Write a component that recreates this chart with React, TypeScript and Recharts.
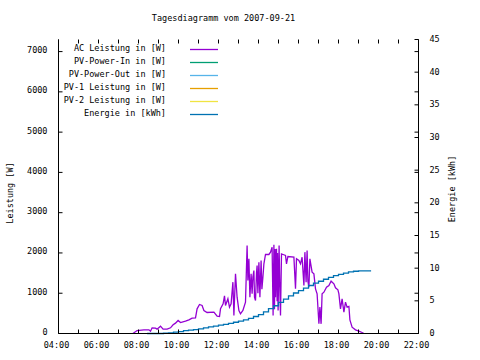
import { LineChart, Line, XAxis, YAxis } from 'recharts';

// time of day in hours, AC power in W
const acTime = [
  7.72, 7.93, 8.27, 8.52, 8.6, 8.68, 8.85, 8.93, 9.1, 9.23, 9.43, 9.6, 9.73, 9.85, 9.98,
  10.1, 10.35, 10.52, 10.68, 10.85, 10.93, 11.05, 11.18, 11.27, 11.43, 11.77, 11.93, 12.05,
  12.1, 12.23, 12.3, 12.35, 12.47, 12.55, 12.63, 12.72, 12.77, 12.85, 12.93, 13.02, 13.1,
  13.22, 13.35, 13.43, 13.47, 13.52, 13.57, 13.63, 13.68, 13.72, 13.77, 13.8, 13.85, 13.9,
  13.93, 13.97, 14.02, 14.07, 14.13, 14.17, 14.22, 14.27, 14.35, 14.52, 14.6, 14.68, 14.73,
  14.77, 14.8, 14.83, 14.85, 14.9, 14.93, 14.95, 14.98, 15.03, 15.07, 15.1, 15.15, 15.23,
  15.35, 15.4, 15.47, 15.77, 15.85, 15.9, 16.02, 16.1, 16.18, 16.27, 16.32, 16.38, 16.43,
  16.47, 16.52, 16.57, 16.68, 16.77, 16.85, 16.93, 17.02, 17.07, 17.13, 17.18, 17.27, 17.4,
  17.52, 17.63, 17.77, 17.85, 17.97, 18.02, 18.1, 18.18, 18.27, 18.35, 18.43, 18.52, 18.57,
  18.68, 18.85, 19.02, 19.18, 19.27,
];
const acWatt = [
  0, 74, 91, 91, 58, 141, 132, 108, 182, 108, 108, 141, 215, 257, 323,
  273, 306, 339, 381, 389, 613, 720, 695, 571, 521, 530, 430, 422,
  613, 737, 935, 695, 861, 654, 737, 1275, 447, 1481, 902, 571, 488,
  571, 778, 2185, 1316, 1854, 902, 1481, 985, 1400, 1564, 900, 819, 1500,
  1688, 1000, 1771, 902, 1813, 1100, 1399, 1730, 1962, 1962, 2020, 2144, 447,
  2202, 600, 2100, 902, 2102, 800, 2000, 571, 2185, 1000, 447, 1978, 1962,
  1937, 1730, 1912, 1895, 1109, 1854, 1813, 1730, 1895, 1192, 2020, 1275, 2061,
  1300, 1150, 1854, 1523, 1481, 1109, 985, 240, 654, 240, 985, 1026, 1150,
  1192, 1299, 1233, 1134, 1084, 985, 613, 861, 530, 778, 654, 670, 339,
  157, 91, 58, 25, 0,
];

// daily energy in kWh
const energyTime = [
  8.43, 8.75, 9.0, 9.25, 9.5, 9.75, 10.0, 10.25, 10.5, 10.75, 11.0, 11.25, 11.5, 11.75,
  12.0, 12.25, 12.5, 12.75, 13.0, 13.25, 13.5, 13.75, 14.0, 14.25, 14.5, 14.75, 15.0,
  15.25, 15.5, 15.75, 16.0, 16.25, 16.5, 16.75, 17.0, 17.25, 17.5, 17.75, 18.0, 18.25,
  18.5, 18.75, 19.0, 19.25, 19.63,
];
const energyKwh = [
  0, 0, 0, 0.05, 0.1, 0.2, 0.3, 0.45, 0.52, 0.6, 0.7, 0.85, 1.0, 1.12,
  1.27, 1.4, 1.55, 1.72, 1.9, 2.1, 2.3, 2.6, 2.9, 3.3, 3.8, 4.25, 4.75,
  5.25, 5.75, 6.2, 6.55, 6.95, 7.35, 7.7, 8.0, 8.3, 8.58, 8.85, 9.05, 9.25,
  9.42, 9.53, 9.6, 9.6, 9.6,
];

const hourTicks = [4, 5, 6, 7, 8, 9, 10, 11, 12, 13, 14, 15, 16, 17, 18, 19, 20, 21, 22];
const wattTicks = [0, 1000, 2000, 3000, 4000, 5000, 6000, 7000];
const kwhTicks = [0, 5, 10, 15, 20, 25, 30, 35, 40, 45];

const legendNames = [
  'AC Leistung in [W]',
  'PV-Power-In in [W]',
  'PV-Power-Out in [W]',
  'PV-1 Leistung in [W]',
  'PV-2 Leistung in [W]',
  'Energie in [kWh]',
];
const legendColors = ['#9400d3', '#009e73', '#56b4e9', '#e69f00', '#f0e442', '#0072b2'];

const acData = acTime.map((t, i) => ({ t, w: acWatt[i] }));
const energyData = energyTime.map((t, i) => ({ t, e: energyKwh[i] }));

const FONT = '"DejaVu Sans Mono", monospace';
const FS = 8.5;
const W = 480;
const H = 360;
const RIGHT = 418.5;
const TOP = 39.5;
const TICK = 4;

const txt = { fontFamily: FONT, fontSize: FS, fill: '#000' };

const fmtHour = (h: number) => `${String(h).padStart(2, '0')}:00`;

const XTick = ({ x, y, payload }: any) => (
  <g>
    <line x1={x} y1={y} x2={x} y2={y - TICK} stroke="#000" />
    <line x1={x} y1={TOP} x2={x} y2={TOP + TICK} stroke="#000" />
    {payload.value % 2 === 0 && (
      <text x={x - 2} y={y + 11} textAnchor="middle" dominantBaseline="central" style={txt}>
        {fmtHour(payload.value)}
      </text>
    )}
  </g>
);

const LeftTick = ({ x, y, payload }: any) => (
  <g>
    <line x1={x} y1={y} x2={x + TICK} y2={y} stroke="#000" />
    <line x1={RIGHT} y1={y} x2={RIGHT - TICK} y2={y} stroke="#000" />
    <text x={x - 11} y={y - 1.5} textAnchor="end" dominantBaseline="central" style={txt}>
      {payload.value}
    </text>
  </g>
);

const RightTick = ({ x, y, payload }: any) => (
  <g>
    <line x1={x} y1={y} x2={x - TICK} y2={y} stroke="#000" />
    <text x={x + 11} y={y - 0.5} textAnchor="start" dominantBaseline="central" style={txt}>
      {payload.value}
    </text>
  </g>
);

export default function App() {
  return (
    <div style={{ position: 'absolute', left: 0, top: 0, width: W, height: H, background: '#fff' }}>
      <LineChart
        width={W}
        height={H}
        margin={{ top: TOP, left: 0.5, right: 0.5, bottom: 0.5 }}
      >
        <XAxis
          dataKey="t"
          type="number"
          domain={[4, 22]}
          ticks={hourTicks}
          interval={0}
          height={26}
          tickSize={0}
          tickMargin={0}
          tickLine={false}
          axisLine={{ stroke: '#000' }}
          tick={(p: any) => <XTick {...p} />}
        />
        <XAxis
          xAxisId="top"
          dataKey="t"
          type="number"
          orientation="top"
          domain={[4, 22]}
          height={0}
          tick={false}
          tickLine={false}
          axisLine={{ stroke: '#000' }}
        />
        <YAxis
          yAxisId="w"
          type="number"
          domain={[0, 7300]}
          ticks={wattTicks}
          interval={0}
          width={58}
          tickSize={0}
          tickMargin={0}
          tickLine={false}
          axisLine={{ stroke: '#000' }}
          tick={(p: any) => <LeftTick {...p} />}
        />
        <YAxis
          yAxisId="e"
          orientation="right"
          type="number"
          domain={[0, 45]}
          ticks={kwhTicks}
          interval={0}
          width={61}
          tickSize={0}
          tickMargin={0}
          tickLine={false}
          axisLine={{ stroke: '#000' }}
          tick={(p: any) => <RightTick {...p} />}
        />
        <Line
          yAxisId="w"
          data={acData}
          dataKey="w"
          type="linear"
          stroke={legendColors[0]}
          strokeWidth={1.3}
          dot={false}
          activeDot={false}
          isAnimationActive={false}
        />
        <Line
          yAxisId="e"
          data={energyData}
          dataKey="e"
          type="stepAfter"
          stroke={legendColors[5]}
          strokeWidth={1.3}
          dot={false}
          activeDot={false}
          isAnimationActive={false}
        />
      </LineChart>
      <svg
        width={W}
        height={H}
        style={{ position: 'absolute', left: 0, top: 0, pointerEvents: 'none' }}
      >
        <text x={223.5} y={18} textAnchor="middle" dominantBaseline="central" style={txt}>
          Tagesdiagramm vom 2007-09-21
        </text>
        <text
          x={9.5}
          y={193}
          transform="rotate(-90 9.5 193)"
          textAnchor="middle"
          dominantBaseline="central"
          style={txt}
        >
          Leistung [W]
        </text>
        <text
          x={451.5}
          y={189}
          transform="rotate(-90 451.5 189)"
          textAnchor="middle"
          dominantBaseline="central"
          style={txt}
        >
          Energie [kWh]
        </text>
        {legendNames.map((name, i) => (
          <g key={name}>
            <text x={166} y={47.5 + i * 13} textAnchor="end" dominantBaseline="central" style={txt}>
              {name}
            </text>
            <line
              x1={190}
              x2={218}
              y1={49.5 + i * 13}
              y2={49.5 + i * 13}
              stroke={legendColors[i]}
              strokeWidth={1.3}
            />
          </g>
        ))}
      </svg>
    </div>
  );
}
